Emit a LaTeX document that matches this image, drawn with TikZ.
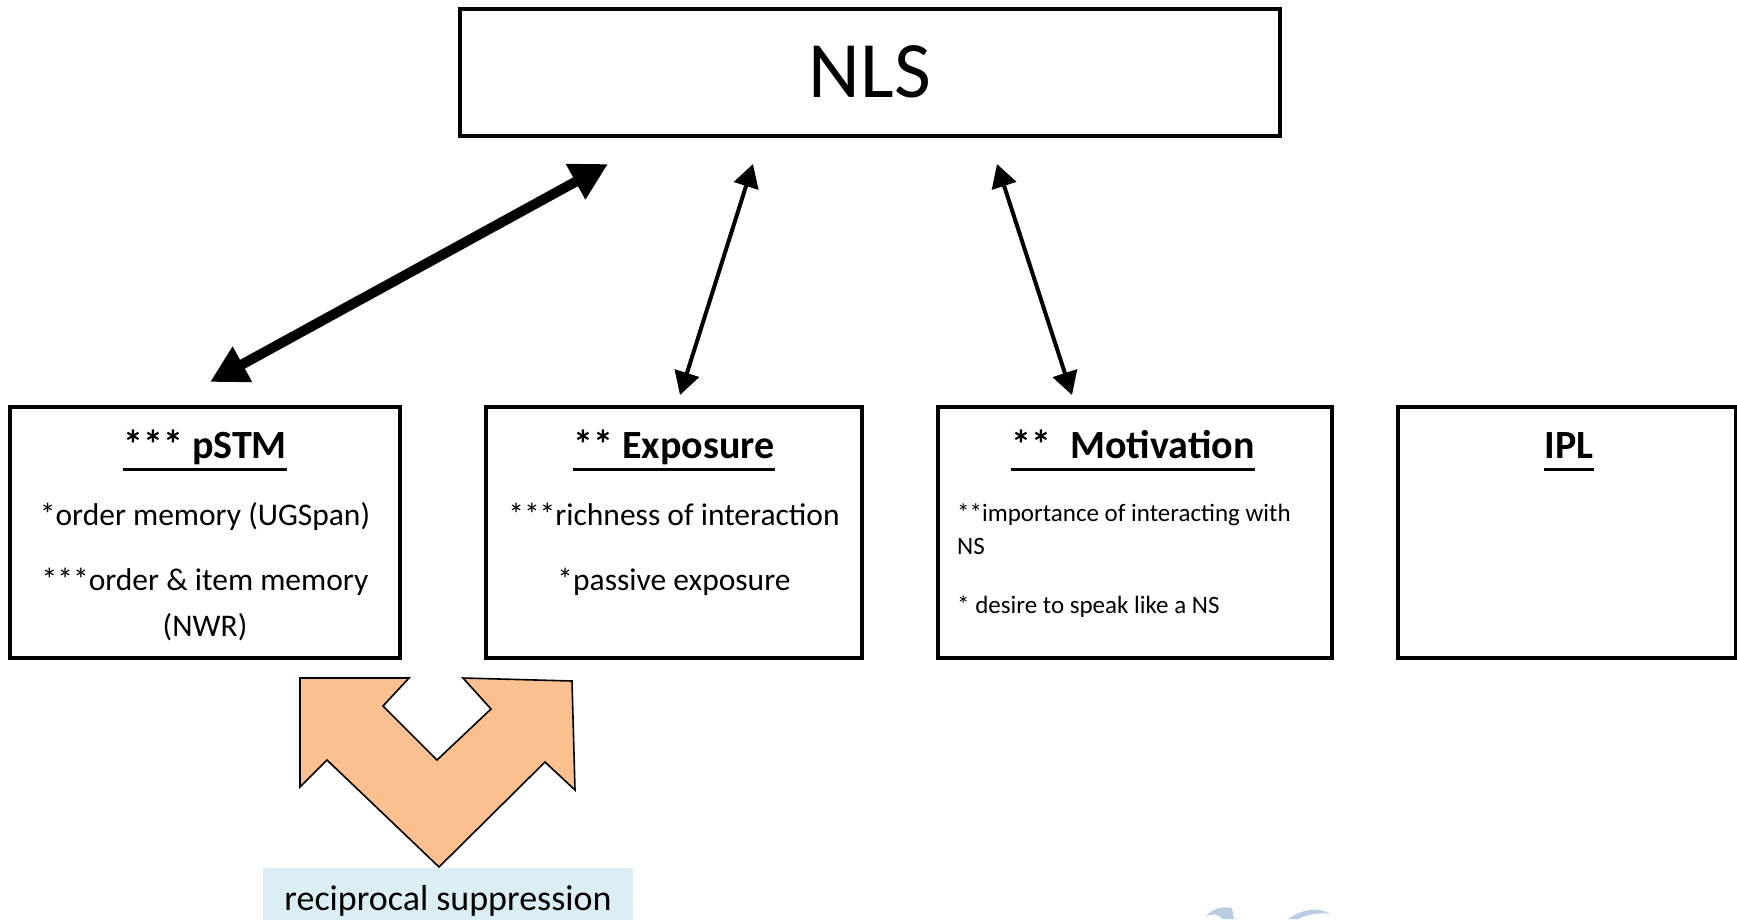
\documentclass[tikz,border=0pt]{standalone}
\usepackage{fontspec}
\setmainfont{Carlito}
\usetikzlibrary{arrows.meta}
\definecolor{peach}{RGB}{250,192,144}
\definecolor{paleblue}{RGB}{219,238,244}
\definecolor{mistblue}{RGB}{184,204,228}
\begin{document}
\begin{tikzpicture}[x=1pt,y=-1pt,
  box/.style={draw, line width=3.5pt, inner sep=0pt, outer sep=0pt},
  head/.style={font=\fontsize{40}{48}\selectfont\bfseries, inner sep=0pt, anchor=base},
  body/.style={font=\fontsize{31.5}{38}\selectfont, inner sep=0pt, anchor=base},
  note/.style={font=\fontsize{25}{30}\selectfont, inner sep=0pt, anchor=base west},
  ul/.style={line width=3pt},
  strong link/.style={line width=10pt,
    {Triangle[length=37pt,width=38pt]}-{Triangle[length=37pt,width=38pt]}},
  light link/.style={line width=4pt,
    {Triangle[length=23pt,width=25pt]}-{Triangle[length=23pt,width=25pt]}},
]
\useasboundingbox (0,0) rectangle (1737,919);

% top box
\node[box, minimum width=820pt, minimum height=127pt] (nls) at (870,72.5) {};
\node[font=\fontsize{80}{94}\selectfont, inner sep=0pt, anchor=base] (nlst) at (870,97) {NLS};

% factor boxes
\node[box, minimum width=390pt, minimum height=251pt] (pstm) at (205,532.5) {};
\node[box, minimum width=376pt, minimum height=251pt] (expo) at (674,532.5) {};
\node[box, minimum width=394pt, minimum height=251pt] (moti) at (1135,532.5) {};
\node[box, minimum width=338pt, minimum height=251pt] (ipl) at (1567,532.5) {};

% headings, underlined
\node[head] (h1) at (205,458) {*** pSTM};
\node[head] (h2) at (674,458) {** Exposure};
\node[head] (h3) at (1133,458) {**\hspace{0.25em} Motivation};
\node[head] (h4) at (1569,458) {IPL};
\foreach \h in {h1,h2,h3,h4}
  \draw[ul] ([yshift=-11pt]\h.base west) -- ([yshift=-11pt]\h.base east);

% contents
\node[body] (p1) at (205,525) {*order memory (UGSpan)};
\node[body] (p2) at (205,590) {***order \& item memory};
\node[body] (p3) at (205,636) {(NWR)};
\node[body] (e1) at (674,525) {***richness of interaction};
\node[body] (e2) at (674,590) {*passive exposure};
\node[note] (m1) at (957,521) {**importance of interacting with};
\node[note] (m2) at (957,554) {NS};
\node[note] (m3) at (957,613) {* desire to speak like a NS};

% connectors
\coordinate (a1) at (210,382);
\coordinate (b1) at (608,164);
\coordinate (a2) at (680,395);
\coordinate (b2) at (753,164);
\coordinate (a3) at (1072,395);
\coordinate (b3) at (997,164);
\draw[strong link] (a1) -- (b1);
\draw[light link] (a2) -- (b2);
\draw[light link] (a3) -- (b3);

% double-headed bent arrow
\draw[fill=peach, line width=1.6pt, line join=miter]
  (300,678) -- (409,678) -- (383,706) -- (437,760) -- (491,709) -- (463,678)
  -- (572,681) -- (575,790) -- (545,762) -- (439,867) -- (327,760) -- (300,787) -- cycle;

% label
\fill[paleblue] (263,868) rectangle (633,925);
\node[font=\fontsize{36}{42}\selectfont, inner sep=0pt, anchor=base] (lab) at (448,910) {reciprocal suppression};

% faint swooshes at the lower edge
\fill[mistblue] (1205,917) .. controls (1213,908) and (1224,906) .. (1232,908)
  -- (1234,919) -- (1222,919) .. controls (1220,914) and (1212,913) .. (1205,917) -- cycle;
\fill[mistblue] (1288,919) .. controls (1300,910) and (1318,906) .. (1330,914)
  .. controls (1318,912) and (1305,915) .. (1298,919) -- cycle;
\end{tikzpicture}
\end{document}
